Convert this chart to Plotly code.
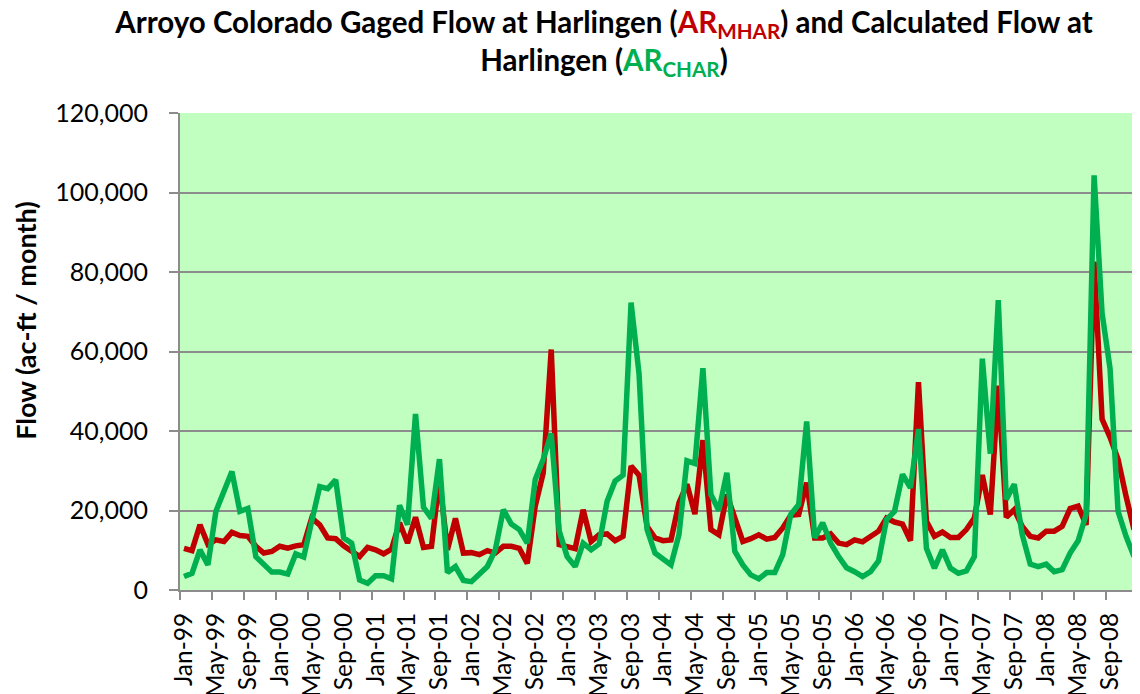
import plotly.graph_objects as go

months = ["Jan", "Feb", "Mar", "Apr", "May", "Jun", "Jul", "Aug", "Sep", "Oct", "Nov", "Dec"]
years = ["99", "00", "01", "02", "03", "04", "05", "06", "07", "08"]
dates = [f"{m}-{y}" for y in years for m in months]

# gaged flow at Harlingen (AR_MHAR), ac-ft / month
gaged = [
    10500, 9900, 16400, 11500, 12600, 12200, 14500, 13700, 13500, 11000, 9300, 9700,
    11000, 10500, 11100, 11400, 18100, 16400, 13100, 12900, 11100, 9700, 8400, 10700,
    10100, 9100, 10300, 16900, 11800, 18300, 10700, 11000, 28000, 10100, 18000, 9300,
    9400, 8900, 9900, 9300, 11000, 11000, 10500, 6700, 21100, 29500, 60500, 11400,
    11000, 10400, 20200, 12200, 13900, 14100, 12400, 13500, 31200, 28900, 16000, 13100,
    12400, 12600, 21900, 26600, 19100, 37700, 15200, 13900, 24000, 18500, 12200, 12900,
    13900, 12800, 13200, 15600, 18800, 19000, 27000, 13100, 13100, 14100, 11800, 11400,
    12600, 12100, 13500, 14800, 18100, 17100, 16600, 12400, 52300, 17300, 13500, 14600,
    13200, 13200, 15200, 18100, 28900, 19000, 51400, 18300, 20200, 16000, 13500, 13100,
    14800, 14800, 16000, 20500, 21100, 16400, 82600, 43000, 38400, 32900, 23600, 15200,
]

# calculated flow at Harlingen (AR_CHAR), ac-ft / month
calculated = [
    3400, 4200, 10100, 6300, 19800, 24900, 29800, 19800, 20500, 8400, 6300, 4500,
    4500, 4000, 9100, 8300, 17300, 26000, 25500, 27700, 13100, 11800, 2500, 1700,
    3600, 3600, 2800, 21300, 16400, 44300, 20800, 18000, 32900, 4400, 5900, 2400,
    2100, 3800, 5900, 10100, 20200, 16600, 15200, 11800, 27800, 32900, 39400, 14800,
    8400, 5900, 11800, 10100, 11600, 22300, 27400, 28900, 72300, 54400, 15200, 9300,
    7600, 6300, 13900, 32500, 31800, 55800, 24000, 20000, 29500, 9700, 6300, 3800,
    2800, 4400, 4400, 8900, 19000, 21500, 42400, 13100, 16900, 11800, 8400, 5600,
    4600, 3400, 4600, 7300, 17700, 19800, 29100, 25700, 40500, 10500, 5500, 10100,
    5500, 4200, 4800, 8400, 58200, 34300, 72900, 22800, 26600, 13900, 6500, 5900,
    6500, 4600, 5100, 9300, 12400, 19000, 104300, 69600, 55700, 19800, 13500, 8400,
]

RED = "#C00000"
GREEN = "#00B050"
GRID = "#8C8C8C"

fig = go.Figure()
fig.add_trace(go.Scatter(x=dates, y=gaged, mode="lines", name="AR MHAR",
                         line=dict(color=RED, width=5.5)))
fig.add_trace(go.Scatter(x=dates, y=calculated, mode="lines", name="AR CHAR",
                         line=dict(color=GREEN, width=5.5)))

title = (
    "Arroyo Colorado Gaged Flow at Harlingen "
    f"(<span style='color:{RED}'>AR<sub>MHAR</sub></span>) and Calculated Flow at<br>"
    f"Harlingen (<span style='color:{GREEN}'>AR<sub>CHAR</sub></span>)"
)

# page body has an 8px margin, so the figure is a little smaller than the window
fig.update_layout(
    width=1132, height=686,
    margin=dict(l=172, r=2, t=105, b=104),
    paper_bgcolor="white",
    plot_bgcolor="#C0FFC0",
    showlegend=False,
    font=dict(family="Lato, Open Sans, sans-serif", color="black"),
    title=dict(text=f"<b>{title}</b>", x=0.5265, xanchor="center",
               y=0.964, yanchor="middle", font=dict(size=29.5, color="black")),
)
fig.update_xaxes(
    type="category", tickmode="linear", tick0=0, dtick=4,
    tickson="boundaries", ticks="outside", ticklen=8, tickcolor=GRID, tickwidth=2,
    tickangle=-90, tickfont=dict(size=24.5), ticklabelstandoff=11,
    showline=True, linecolor=GRID, linewidth=2, automargin=False,
    showgrid=False, range=[-0.5, 119.5],
)
fig.update_yaxes(
    range=[0, 120000], dtick=20000, tickformat=",",
    ticks="outside", ticklen=9, tickcolor=GRID, tickwidth=2,
    tickfont=dict(size=25), ticklabelstandoff=16,
    showgrid=True, gridcolor=GRID, gridwidth=2, automargin=False,
    showline=True, linecolor=GRID, linewidth=2, zeroline=False,
)
fig.add_annotation(
    text="<b>Flow (ac-ft / month)</b>", textangle=-90,
    xref="paper", yref="paper", x=-0.162, y=0.566,
    xanchor="center", yanchor="middle", showarrow=False,
    font=dict(size=27, color="black"),
)

fig.write_html("out.html")
